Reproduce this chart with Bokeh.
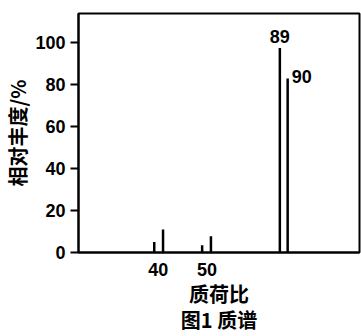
from bokeh.plotting import figure
from bokeh.models import FixedTicker, Range1d, ColumnDataSource
from bokeh.core.properties import value
from bokeh.embed import file_html
from bokeh.resources import INLINE

# schematic (compressed) axis positions of the peaks and their relative abundance
peak_pos = [39.2, 41.0, 49.0, 50.8, 64.9, 66.5]
abundance = [5, 11, 3.5, 7.7, 97.6, 83]
label_pos = [64.9, 66.5]
label_val = [97.6, 83]
label_txt = ["89", "90"]
x_ticks = [40, 50]
y_ticks = [0, 20, 40, 60, 80, 100]
x_title = "质荷比"
caption = "图1 质谱"
y_title = "相对丰度/%"

CJK = "Noto Sans CJK SC"
NUM = "Liberation Sans"

p = figure(width=361, height=336, output_backend="svg", toolbar_location=None,
           x_range=Range1d(23.7, 81.2), y_range=Range1d(0, 114),
           min_border_left=76, min_border_top=13, min_border_right=2, min_border_bottom=84)
p.background_fill_color = "white"
p.border_fill_color = "white"
p.grid.visible = False
p.outline_line_color = "black"
p.outline_line_width = 2

src = ColumnDataSource(dict(x=peak_pos, y=abundance, y0=[0] * len(peak_pos)))
p.segment(x0="x", y0="y0", x1="x", y1="y", source=src, line_color="black", line_width=2.5)

p.text(x=[label_pos[0]], y=[label_val[0] + 2.2], text=[label_txt[0]],
       text_align="center", text_baseline="bottom", text_font=value(NUM),
       text_font_size="18px", text_font_style="bold", text_color="black")
p.text(x=[label_pos[1]], y=[label_val[1] + 1], text=[label_txt[1]], x_offset=4,
       text_align="left", text_baseline="middle", text_font=value(NUM),
       text_font_size="18px", text_font_style="bold", text_color="black")

xa = p.xaxis[0]
xa.ticker = FixedTicker(ticks=x_ticks)
xa.major_tick_out = 0
xa.major_tick_in = 0
xa.minor_tick_out = 0
xa.minor_tick_in = 0
xa.axis_line_width = 2
xa.major_label_standoff = 10
xa.major_label_text_font = NUM
xa.major_label_text_font_size = "18px"
xa.major_label_text_font_style = "bold"
xa.major_label_text_color = "black"
xa.axis_label = x_title + "\n" + caption
xa.axis_label_text_font = CJK
xa.axis_label_text_font_size = "20px"
xa.axis_label_text_font_style = "bold"
xa.axis_label_text_line_height = 0.9
xa.axis_label_standoff = 0
xa.axis_label_text_color = "black"

ya = p.yaxis[0]
ya.ticker = FixedTicker(ticks=y_ticks)
ya.major_tick_out = 8
ya.major_tick_in = 0
ya.minor_tick_out = 0
ya.minor_tick_in = 0
ya.axis_line_width = 2
ya.major_tick_line_width = 2
ya.major_label_standoff = 5
ya.major_label_text_font = NUM
ya.major_label_text_font_size = "18px"
ya.major_label_text_font_style = "bold"
ya.major_label_text_color = "black"
ya.axis_label = y_title
ya.axis_label_text_font = CJK
ya.axis_label_text_font_size = "20px"
ya.axis_label_text_font_style = "bold"
ya.axis_label_standoff = 0
ya.axis_label_text_color = "black"

open("out.html", "w").write(file_html(p, INLINE))
